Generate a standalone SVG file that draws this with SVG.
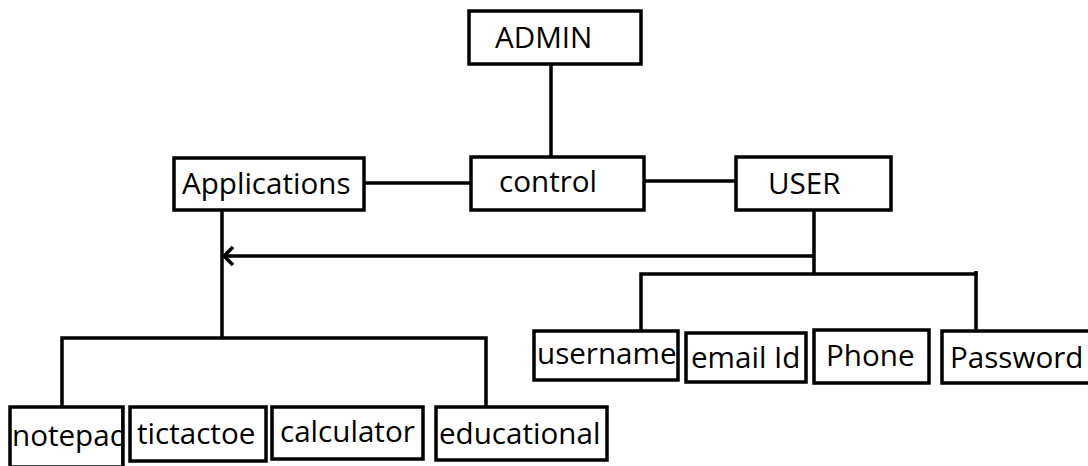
<svg xmlns="http://www.w3.org/2000/svg" width="1088" height="466" viewBox="0 0 1088 466">
<style>
.box{fill:#fff;stroke:#000;stroke-width:3.5}
.lbl{font-family:"Open Sans","Noto Sans","Liberation Sans",sans-serif;font-size:29.6px;fill:#000}
.ln{fill:none;stroke:#000;stroke-width:3.5}
</style>
<rect width="1088" height="466" fill="#fff"/>
<g id="connectors">
<line class="ln" x1="551" y1="64" x2="551" y2="158"/>
<line class="ln" x1="364" y1="183" x2="471" y2="183"/>
<line class="ln" x1="644" y1="181" x2="736" y2="181"/>
<line class="ln" x1="814" y1="210" x2="814" y2="274"/>
<line class="ln" x1="814" y1="256" x2="224" y2="256"/>
<polyline class="ln" points="233,247 224,256 233,265"/>
<line class="ln" x1="222" y1="210" x2="222" y2="339"/>
<polyline class="ln" points="62,407 62,338 486,338 486,407"/>
<polyline class="ln" points="641,331 641,274 976,274 976,331"/>
<line class="ln" x1="976" y1="271" x2="976" y2="276"/>
</g>
<g id="admin"><rect class="box" x="469" y="11" width="172" height="53"/><text class="lbl" x="495" y="48">ADMIN</text></g>
<g id="applications"><rect class="box" x="174" y="158" width="190" height="52"/><text class="lbl" x="182" y="194">Applications</text></g>
<g id="control"><rect class="box" x="471" y="157" width="173" height="53"/><text class="lbl" x="499" y="192">control</text></g>
<g id="user"><rect class="box" x="736" y="157" width="155" height="53"/><text class="lbl" x="768" y="194">USER</text></g>
<g id="notepad"><rect class="box" x="10" y="407" width="113" height="60"/><text class="lbl" x="12" y="446">notepad</text><rect x="123" y="407" width="6" height="60" fill="#fff"/><line class="ln" x1="123" y1="407" x2="123" y2="467"/></g>
<g id="tictactoe"><rect class="box" x="130" y="407" width="136" height="54"/><text class="lbl" x="137" y="444">tictactoe</text></g>
<g id="calculator"><rect class="box" x="272" y="407" width="151" height="52"/><text class="lbl" x="280" y="442">calculator</text></g>
<g id="educational"><rect class="box" x="436" y="407" width="171" height="53"/><text class="lbl" x="439" y="444">educational</text></g>
<g id="username"><rect class="box" x="534" y="331" width="144" height="49"/><text class="lbl" x="537" y="364">username</text></g>
<g id="email"><rect class="box" x="686" y="333" width="120" height="49"/><text class="lbl" x="691" y="368">email Id</text></g>
<g id="phone"><rect class="box" x="814" y="330" width="115" height="53"/><text class="lbl" x="826" y="366">Phone</text></g>
<g id="password"><rect class="box" x="942" y="331" width="160" height="52"/><text class="lbl" x="950" y="368">Password</text></g>
</svg>
